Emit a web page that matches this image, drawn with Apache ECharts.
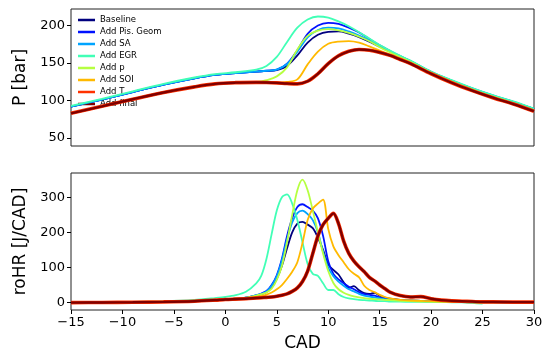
<!DOCTYPE html>
<html>
<head>
<meta charset="utf-8">
<script src="https://cdn.jsdelivr.net/npm/echarts@6/dist/echarts.min.js"></script>
<style>
html,body{margin:0;padding:0;background:#fff;}
#c{width:550px;height:356px;}
</style>
</head>
<body>
<div id="c"></div>
<script>
// ---------- data ----------
const seriesNames = ['Baseline','Add Pis. Geom','Add SA','Add EGR','Add p','Add SOI','Add T','Add final'];
const seriesColors = ['#00007f','#0012ff','#00a4ff','#41ffb6','#b6ff41','#ffb900','#ff3200','#7f0000'];

const xTicks = [-15,-10,-5,0,5,10,15,20,25,30];
const pTicks = [50,100,150,200];
const hrTicks = [0,100,200,300];

// Pressure traces
const cadP = [-15,-12,-9,-6,-3,-1,1,3,4,5,6,7,8,9,10,11,12,13,14,15,16,17,18,20,22,24,26,28,30];
const pBaseline = [91.5,101,111,121,129.5,134,136.5,138.3,139.3,140.5,146,160,177,187.5,191.5,192,189,184.5,178.5,171.5,165.5,158.5,152,137.5,126,115.5,106,97.5,88.5];
const pPisGeom  = [91.5,101,111,121,129.5,134,136.5,138.3,139.5,141,149,167,189,200,203.5,202,197,190.5,182,173.5,166,159,152.5,138,126.5,116,106.5,98,88.5];
const pSA       = [91.5,101,111,121,129.5,134,136.5,138.3,139.5,141,148.5,165,184,194,197,196,192,186.5,180,172.5,165.5,158.5,152,137.5,126,115.5,106,97.5,88.5];
const pEGR      = [92.5,102,112,122,130.5,135,137.5,141,146,158,178,197,208,212,210.5,205.5,199,191,182.5,174,166.5,159.5,153,138.5,127,116.5,107,98.5,89];
const pP        = [82.6,92,101.5,110.5,118,122,123.6,124.5,127,132,144,168,186,193,195,193.5,190,185,179,171,164,157.5,151,137,125,114.5,105,96,86.5];
const pSOI      = [82.6,92,101.5,110.5,118,122,123.6,124,123.8,123.5,124.5,128,148,165,175.5,178.5,179,177,172,166.5,161,155.5,149.5,136,124,113.5,104,95.5,86];
const pT        = [82.6,92,101.5,110.5,118,122,123.6,124,123.8,123.3,122.5,122,125.5,135.5,149,159.5,165.5,168,167,164,160,154.5,149,135.5,123.5,113,103.5,95,85.5];
const pFinal    = [82.6,92,101.5,110.5,118,122,123.6,124,123.8,123.3,122.5,122,125.5,135.5,149,159.5,165.5,168,167,164,160,154.5,149,135.5,123.5,113,103.5,95,85.5];

// Heat release rate traces
const cadHR = [-15,-12,-9,-6,-3,-1,0,1,2,3,3.5,4,4.5,5,5.5,6,6.5,7,7.5,8,8.5,9,9.5,10,10.5,11,11.5,12,12.5,13,13.5,14,14.5,15,15.5,16,17,18,19,20,21,22,23,24,25,26,28,30];
const hrBaseline = [0,0.5,1,2,4,7,9,11,14,20,24,30,44,68,105,155,200,225,230,222,212,185,150,108,93,80,58,42,47,35,27,25,28,20,14,11,8,6,5,4,3,2.5,2,1.5,1,1,0.5,0.5];
const hrPisGeom  = [0,0.5,1,2,4,7,9,11,14,21,26,33,50,78,125,190,240,272,280,272,262,240,190,118,82,66,55,45,38,30,24,22,20,15,12,10,7,5,4,3,2.5,2,1.5,1,1,1,0.5,0.5];
const hrSA       = [0,0.5,1,2,4,7,9,11,14,21,25,32,48,75,120,180,228,255,262,252,235,200,145,100,75,60,48,38,32,25,20,17,15,12,10,8,6,5,4,3,2.5,2,1.5,1,1,1,0.5,0.5];
const hrEGR      = [0.5,1,2,4,8,13,16,21,31,55,77,125,195,262,300,308,282,235,172,110,82,76,55,36,36,24,16,12,10,8,7,6,5,4,4,3,3,2,2,2,1.5,1,0.5,-1,-3,null,null,null];
const hrP        = [0,0.5,1,2,4,7,9,11,14,20,24,29,40,65,105,172,250,320,350,320,262,200,140,90,56,38,28,22,18,15,13,11,10,9,8,7,5,4,3,2.5,2,2,1.5,1,1,1,0.5,0.5];
const hrSOI      = [0,0.5,1,2,4,7,9,11,13,16,19,23,29,38,50,68,88,115,170,235,268,282,293,210,160,135,115,95,82,72,48,36,30,22,16,12,8,6,5,4,3,2.5,2,1.5,1,1,0.5,0.5];
const hrT        = [0,0.5,1,2,4,7,9,10,11,13,14,15,16,18,21,25,32,42,60,90,140,190,222,240,254,225,175,140,118,102,88,72,62,50,40,30,20,16,17,11,7,5,4,3,2,2,1.5,1.5];
const hrFinal    = [0,0.5,1,2,4,7,9,10,11,13,14,15,16,18,21,25,32,42,60,90,140,190,222,240,254,225,175,140,118,102,88,72,62,50,40,30,20,16,17,11,7,5,4,3,2,2,1.5,1.5];

const pData  = [pBaseline,pPisGeom,pSA,pEGR,pP,pSOI,pT,pFinal];
const hrData = [hrBaseline,hrPisGeom,hrSA,hrEGR,hrP,hrSOI,hrT,hrFinal];
const widths = [1.8,1.8,1.8,1.8,1.8,1.8,3.6,2.4];

// ---------- chart ----------
const chart = echarts.init(document.getElementById('c'), null, {renderer:'canvas'});
const font = 'DejaVu Sans';
const minus = v => String(v).replace('-', '\u2212');

function pairs(xs, ys){ const out=[]; for(let i=0;i<xs.length;i++){ if(ys[i]!==null && ys[i]!==undefined) out.push([xs[i], ys[i]]); } return out; }

const series = [];
seriesNames.forEach((n,i)=>{
  series.push({name:n, type:'line', xAxisIndex:0, yAxisIndex:0, data:pairs(cadP,pData[i]),
    showSymbol:false, smooth:0.35, lineStyle:{width:widths[i], color:seriesColors[i]}, itemStyle:{color:seriesColors[i]}, z:2+i});
});
seriesNames.forEach((n,i)=>{
  series.push({name:n, type:'line', xAxisIndex:1, yAxisIndex:1, data:pairs(cadHR,hrData[i]),
    showSymbol:false, smooth:0.3, lineStyle:{width:widths[i], color:seriesColors[i]}, itemStyle:{color:seriesColors[i]}, z:2+i});
});

const axisText = {color:'#000', fontFamily:font, fontSize:13};
chart.setOption({
  animation:false,
  backgroundColor:'#fff',
  grid:[
    {left:71, right:16, top:9, height:137, show:true, borderColor:'#222', borderWidth:1, backgroundColor:'transparent'},
    {left:71, right:16, top:173, height:137, show:true, borderColor:'#222', borderWidth:1, backgroundColor:'transparent'}
  ],
  legend:{
    data:seriesNames, orient:'vertical', left:73, top:10, icon:'rect', itemWidth:17, itemHeight:2.5,
    itemGap:2, textStyle:{color:'#000', fontFamily:font, fontSize:8.5, lineHeight:10}, selectedMode:false
  },
  xAxis:[
    {gridIndex:0, type:'value', min:-15, max:30, interval:5, axisLine:{show:false, onZero:false}, axisTick:{show:false}, axisLabel:{show:false}, splitLine:{show:false}},
    {gridIndex:1, type:'value', min:-15, max:30, interval:5, position:'bottom', axisLine:{show:false, onZero:false},
      axisTick:{show:true, length:4, lineStyle:{color:'#000'}}, splitLine:{show:false},
      axisLabel:Object.assign({formatter:minus, margin:6, customValues:xTicks}, axisText),
      name:'CAD', nameLocation:'middle', nameGap:25, nameTextStyle:{color:'#000', fontFamily:font, fontSize:17}}
  ],
  yAxis:[
    {gridIndex:0, type:'value', min:39, max:222, position:'left', axisLine:{show:false, onZero:false}, splitLine:{show:false},
      axisTick:{show:true, length:4, lineStyle:{color:'#000'}, customValues:pTicks},
      axisLabel:Object.assign({margin:6, customValues:pTicks}, axisText),
      name:'P [bar]', nameLocation:'middle', nameRotate:90, nameGap:38, nameTextStyle:{color:'#000', fontFamily:font, fontSize:17}},
    {gridIndex:1, type:'value', min:-21, max:369, position:'left', axisLine:{show:false, onZero:false}, splitLine:{show:false},
      axisTick:{show:true, length:4, lineStyle:{color:'#000'}, customValues:hrTicks},
      axisLabel:Object.assign({margin:6, customValues:hrTicks}, axisText),
      name:'roHR [J/CAD]', nameLocation:'middle', nameRotate:90, nameGap:38, nameTextStyle:{color:'#000', fontFamily:font, fontSize:17}}
  ],
  series:series
});
</script>
</body>
</html>
